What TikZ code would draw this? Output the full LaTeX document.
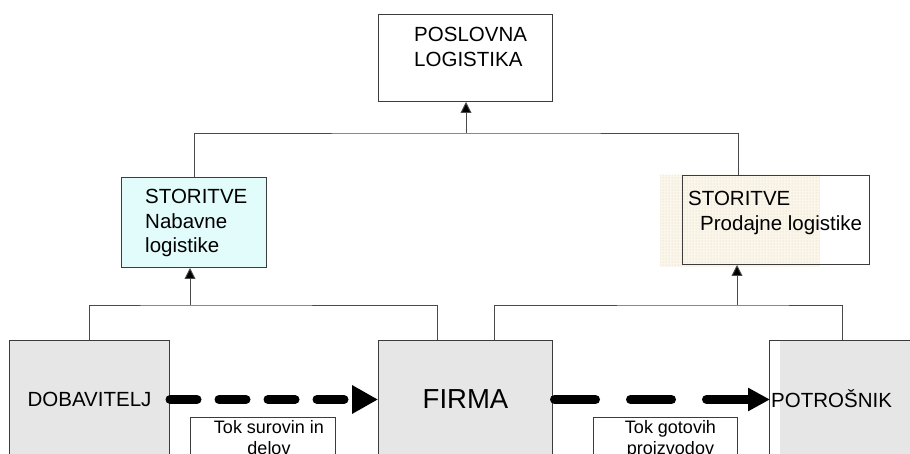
\documentclass[tikz,border=0pt]{standalone}
\usepackage{fontspec}
\setmainfont{Liberation Sans}
\usepackage{tikz}
\usetikzlibrary{arrows.meta,positioning,patterns}
\definecolor{edge}{HTML}{3C3C3C}
\definecolor{wire}{HTML}{4A4A4A}
\definecolor{nabfill}{HTML}{E2FCFC}
\definecolor{firmfill}{HTML}{E6E6E6}
\definecolor{sand}{HTML}{E2D2A4}
\definecolor{sandlight}{HTML}{FAF6EC}
\newcommand{\txtbig}{\fontsize{20.5}{24.5}\selectfont}
\newcommand{\txtsmall}{\fontsize{18}{21.5}\selectfont}
\newcommand{\txthuge}{\fontsize{27.5}{32}\selectfont}
\tikzset{
  block/.style={draw=edge, line width=1pt, inner sep=0pt, anchor=north west},
  boxtext/.style={font=\txtbig, align=left, inner sep=0pt, anchor=north west},
  tagtext/.style={font=\txtsmall, align=center, inner sep=0pt},
  wire/.style={draw=wire, line width=0.9pt},
  uparrow/.style={wire, -{Triangle[length=11pt,width=11pt,fill=black]}},
  flow/.style={draw=black, line width=9pt, line cap=round}
}

\begin{document}
\begin{tikzpicture}[x=1pt,y=-1pt]
  \useasboundingbox (0,0) rectangle (910,454);
  \clip (0,0) rectangle (910,454);

  % top level
  \node[block,minimum width=174pt,minimum height=87pt] (posl) at (378,14) {};
  \node[boxtext,below right=13pt and 36pt of posl.north west] (posltxt)
    {POSLOVNA\\LOGISTIKA};

  % services
  \node[block,fill=nabfill,minimum width=145pt,minimum height=90pt] (nab) at (121,177) {};
  \node[boxtext,below right=12pt and 24pt of nab.north west] (nabtxt)
    {STORITVE\\Nabavne\\logistike};

  \fill[sandlight] (660,175) rectangle (820,267);
  \fill[pattern=dots,pattern color=sand] (660,175) rectangle (820,267);
  \node[block,minimum width=187pt,minimum height=89pt] (prod) at (682,175) {};
  \node[boxtext,below right=16pt and 6pt of prod.north west] (prodtxt)
    {STORITVE\\\hspace*{12pt}Prodajne logistike};

  % bottom row
  \node[block,fill=firmfill,font=\txtbig,minimum width=160pt,minimum height=118pt] (dob)
    at (9,340) {DOBAVITELJ};
  \node[block,fill=firmfill,font=\txthuge,minimum width=174pt,minimum height=118pt] (firma)
    at (378,340) {FIRMA};
  \fill[firmfill] (780,340) rectangle (930,460);
  \node[block,minimum width=161pt,minimum height=118pt] (potr) at (769,340) {};
  \node[font=\txtbig,inner sep=0pt,anchor=base west] (potrtxt) at (771,407) {POTROŠNIK};

  \node[block,minimum width=145pt,minimum height=50pt] (tagA) at (190,417) {};
  \node[tagtext,below=3pt of tagA.north,xshift=6pt] (tagAtxt) {Tok surovin in\\delov};
  \node[block,minimum width=144pt,minimum height=50pt] (tagB) at (593,417) {};
  \node[tagtext,below=3pt of tagB.north,xshift=5pt] (tagBtxt) {Tok gotovih\\proizvodov};

  % tree lines
  \coordinate (hubtop) at (466,133);
  \coordinate (hubA) at (190,305);
  \coordinate (hubB) at (737,305);
  \draw[wire] (nab.north) |- (hubtop) -| ([xshift=56pt]prod.north west);
  \draw[uparrow] (hubtop) -- (hubtop |- posl.south);
  \draw[wire] (dob.north) |- (hubA) -| ([xshift=59pt]firma.north west);
  \draw[uparrow] (hubA) -- (hubA |- nab.south);
  \draw[wire] ([xshift=116pt]firma.north west) |- (hubB) -| ([xshift=73pt]potr.north west);
  \draw[uparrow] (hubB) -- (hubB |- prod.south);

  % flows
  \draw[flow,dash pattern=on 27pt off 22pt,-{Triangle[length=26pt,width=27pt]}]
    (dob.east) -- (firma.west);
  \draw[flow,dash pattern=on 41pt off 35pt,-{Triangle[length=22pt,width=22pt]}]
    ([xshift=1.5pt]firma.east) -- ([xshift=1pt]potr.west);
\end{tikzpicture}
\end{document}
